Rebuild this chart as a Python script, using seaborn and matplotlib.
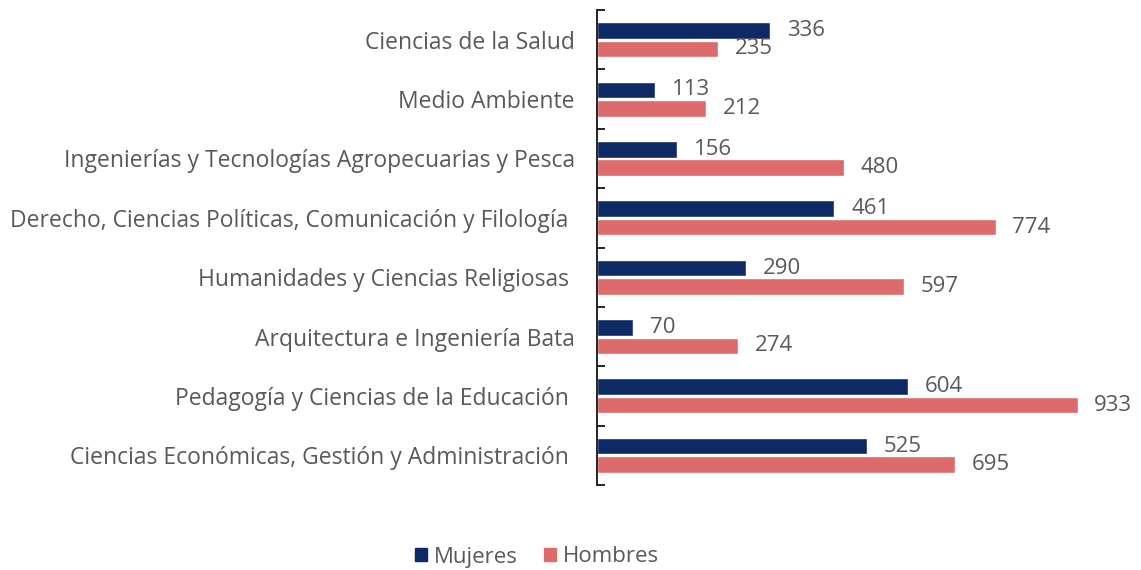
import pandas as pd
import numpy as np
import matplotlib.pyplot as plt
import seaborn as sns
from matplotlib.patches import Patch

categorias = [
    "Ciencias de la Salud",
    "Medio Ambiente",
    "Ingenierías y Tecnologías Agropecuarias y Pesca",
    "Derecho, Ciencias Políticas, Comunicación y Filología ",
    "Humanidades y Ciencias Religiosas ",
    "Arquitectura e Ingeniería Bata",
    "Pedagogía y Ciencias de la Educación ",
    "Ciencias Económicas, Gestión y Administración ",
]
mujeres = [336, 113, 156, 461, 290, 70, 604, 525]
hombres = [235, 212, 480, 774, 597, 274, 933, 695]
series = ["Mujeres", "Hombres"]
colores = ["#0E2A66", "#DD6B6B"]

sns.set_style("white")
plt.rcParams["font.family"] = ["Open Sans", "DejaVu Sans"]
texto = "#595959"

df = pd.DataFrame({
    "Categoria": categorias * 2,
    "Valor": mujeres + hombres,
    "Serie": [series[0]] * len(categorias) + [series[1]] * len(categorias),
})

fig = plt.figure(figsize=(11.41, 5.70), dpi=100)
ax = fig.add_axes([0.5232, 0.1491, 0.4514, 0.8333])

sns.barplot(data=df, y="Categoria", x="Valor", hue="Serie", order=categorias,
            hue_order=series, palette=colores, orient="h", width=0.62, gap=0.1,
            saturation=1, legend=False, ax=ax)

for cont in ax.containers:
    labels = ax.bar_label(cont, padding=12, fontsize=16, color=texto)
    for t in labels:
        t.set_va("center")
        t.set_y(t.get_position()[1])

ax.set_xlim(0, 1000)
ax.set_ylim(len(categorias) - 0.5, -0.5)
ax.set_xlabel("")
ax.set_ylabel("")
ax.set_xticks([])
for s in ["top", "right", "bottom"]:
    ax.spines[s].set_visible(False)
ax.spines["left"].set_color("black")
ax.spines["left"].set_linewidth(1.2)

# etiquetas centradas, marcas en los limites de cada categoria
ax.tick_params(axis="y", which="major", left=False, length=0, pad=16,
               labelsize=16.5, labelcolor=texto)
ax.set_yticks(np.arange(-0.5, len(categorias)), minor=True)
ax.tick_params(axis="y", which="minor", left=True, direction="in", length=6,
               width=1.2, color="black")

handles = [Patch(facecolor=c, edgecolor=c) for c in colores]
fig.legend(handles, series, loc="center", bbox_to_anchor=(537 / 1141, 1 - 557 / 570),
           ncol=2, frameon=False, fontsize=16, labelcolor=texto,
           handlelength=0.55, handleheight=0.55, handletextpad=0.3, columnspacing=1.2)

fig.savefig("out.png", dpi=100)
